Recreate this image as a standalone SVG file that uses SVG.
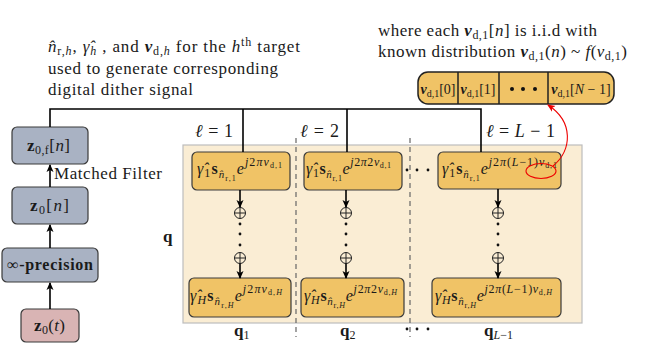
<svg xmlns="http://www.w3.org/2000/svg" width="651" height="347" viewBox="0 0 651 347">
<style>
text{font-family:"Liberation Serif","Times New Roman",serif;fill:#1a1a1a}
.t{font-size:17px}
.m{font-size:16px}
.i{font-style:italic}
.b{font-weight:bold}
.bi{font-weight:bold;font-style:italic}
.ob{fill:#F0C366;stroke:#3a3a3a;stroke-width:1.2}
.gb{fill:#A9B2C3;stroke:#3a3a3a;stroke-width:1.2}
.ln{stroke:#000;stroke-width:1.6;fill:none}
.dl{stroke:#666;stroke-width:1.2;stroke-dasharray:5 4;fill:none}
.op{fill:none;stroke:#222;stroke-width:1}
.dot{fill:#111}
</style>
<defs>
<marker id="ah" markerWidth="8" markerHeight="8" refX="7" refY="4" orient="auto" markerUnits="userSpaceOnUse">
<path d="M0,0.5 L8,4 L0,7.5 L2,4 z" fill="#000"/>
</marker>
<marker id="ahr" markerWidth="8" markerHeight="8" refX="7" refY="4" orient="auto" markerUnits="userSpaceOnUse">
<path d="M0,0.5 L8,4 L0,7.5 L2,4 z" fill="#e00"/>
</marker>
</defs>

<rect id="panel" x="183" y="145" width="399" height="178" fill="#FAEDD4" stroke="#BDBDBD" stroke-width="1.2"/>

<g id="note-left">
<text class="t" x="48" y="52" textLength="252"><tspan class="i">n̂</tspan><tspan dy="3" font-size="12">r,</tspan><tspan class="i" font-size="12">h</tspan><tspan dy="-3">, </tspan><tspan class="i">γ̂</tspan><tspan dy="3" class="i" font-size="12">h</tspan><tspan dy="-3"> , and </tspan><tspan class="bi">ν</tspan><tspan dy="3" font-size="12">d,</tspan><tspan class="i" font-size="12">h</tspan><tspan dy="-3"> for the </tspan><tspan class="i">h</tspan><tspan dy="-6" font-size="12">th</tspan><tspan dy="6"> target</tspan></text>
<text class="t" x="48" y="74" textLength="230">used to generate corresponding</text>
<text class="t" x="48" y="95" textLength="145">digital dither signal</text>
</g>
<g id="note-right">
<text class="t" x="378" y="36" textLength="219">where each <tspan class="bi">ν</tspan><tspan dy="3" font-size="12">d,1</tspan><tspan dy="-3">[</tspan><tspan class="i">n</tspan>] is i.i.d with</text>
<text class="t" x="378" y="57" textLength="249">known distribution <tspan class="bi">ν</tspan><tspan dy="3" font-size="12">d,1</tspan><tspan dy="-3">(</tspan><tspan class="i">n</tspan>) ~ <tspan class="i">f</tspan>(<tspan class="i">ν</tspan><tspan dy="3" font-size="12">d,1</tspan><tspan dy="-3">)</tspan></text>
</g>

<g id="nu-vector">
<rect x="418" y="72" width="196" height="32" rx="10" fill="#F0C366" stroke="#222" stroke-width="1.5"/>
<line x1="458" y1="72" x2="458" y2="104" stroke="#222" stroke-width="1.5"/>
<line x1="499" y1="72" x2="499" y2="104" stroke="#222" stroke-width="1.5"/>
<line x1="548" y1="72" x2="548" y2="104" stroke="#222" stroke-width="1.5"/>
<text x="438" y="94" text-anchor="middle" font-size="14"><tspan class="bi">ν</tspan><tspan dy="3" font-size="10">d,1</tspan><tspan dy="-3">[0]</tspan></text>
<text x="478" y="94" text-anchor="middle" font-size="14"><tspan class="bi">ν</tspan><tspan dy="3" font-size="10">d,1</tspan><tspan dy="-3">[1]</tspan></text>
<circle class="dot" cx="512" cy="89" r="2"/><circle class="dot" cx="523" cy="89" r="2"/><circle class="dot" cx="535" cy="89" r="2"/>
<text x="581" y="94" text-anchor="middle" font-size="14"><tspan class="bi">ν</tspan><tspan dy="3" font-size="10">d,1</tspan><tspan dy="-3">[</tspan><tspan class="i">N</tspan> − 1]</text>
</g>

<g id="z0f"><rect class="gb" x="12" y="127" width="76" height="37" rx="5"/>
<text x="27" y="151" font-size="17" textLength="43"><tspan class="b">z</tspan><tspan dy="3" font-size="12">0,f</tspan><tspan dy="-3">[</tspan><tspan class="i">n</tspan>]</text></g>
<g id="z0n"><rect class="gb" x="12" y="187" width="76" height="37" rx="5"/>
<text x="30" y="211" font-size="17" textLength="39"><tspan class="b">z</tspan><tspan dy="3" font-size="12">0</tspan><tspan dy="-3">[</tspan><tspan class="i">n</tspan>]</text></g>
<g id="inf-precision"><rect class="gb" x="2" y="248" width="96" height="34" rx="5"/>
<text x="7" y="270" font-size="16" font-weight="bold" textLength="86">∞-precision</text></g>
<g id="z0t"><rect x="21" y="309" width="58" height="33" rx="5" fill="#D9B4B4" stroke="#3a3a3a" stroke-width="1.2"/>
<text x="34" y="331" font-size="17" textLength="31"><tspan class="b">z</tspan><tspan dy="3" font-size="12">0</tspan><tspan dy="-3">(</tspan><tspan class="i">t</tspan>)</text></g>

<g id="separators">
<line class="dl" x1="296" y1="138" x2="296" y2="337"/>
<line class="dl" x1="410" y1="138" x2="410" y2="337"/>
</g>

<g id="box-1-1"><rect class="ob" x="192" y="152" width="98" height="38" rx="5"/>
<text class="m" x="197" y="174" textLength="85"><tspan class="i">γ̂</tspan><tspan dy="3" font-size="12">1</tspan><tspan dy="-3" class="b">s</tspan><tspan dy="4" class="i" font-size="11">n̂</tspan><tspan dy="3" font-size="8">r,1</tspan><tspan dy="-7" class="i">e</tspan><tspan dy="-8" class="i" font-size="12">j</tspan><tspan font-size="12">2</tspan><tspan class="i" font-size="12">πν</tspan><tspan dy="2" font-size="8">d,1</tspan></text></g>
<g id="box-2-1"><rect class="ob" x="304" y="152" width="98" height="38" rx="5"/>
<text class="m" x="306" y="174" textLength="85"><tspan class="i">γ̂</tspan><tspan dy="3" font-size="12">1</tspan><tspan dy="-3" class="b">s</tspan><tspan dy="4" class="i" font-size="11">n̂</tspan><tspan dy="3" font-size="8">r,1</tspan><tspan dy="-7" class="i">e</tspan><tspan dy="-8" class="i" font-size="12">j</tspan><tspan font-size="12">2</tspan><tspan class="i" font-size="12">π</tspan><tspan font-size="12">2</tspan><tspan class="i" font-size="12">ν</tspan><tspan dy="2" font-size="8">d,1</tspan></text></g>
<g id="box-L-1"><rect class="ob" x="438" y="152" width="123" height="37" rx="5"/>
<text class="m" x="442" y="174" textLength="115"><tspan class="i">γ̂</tspan><tspan dy="3" font-size="12">1</tspan><tspan dy="-3" class="b">s</tspan><tspan dy="4" class="i" font-size="11">n̂</tspan><tspan dy="3" font-size="8">r,1</tspan><tspan dy="-7" class="i">e</tspan><tspan dy="-8" class="i" font-size="12">j</tspan><tspan font-size="12">2</tspan><tspan class="i" font-size="12">π</tspan><tspan font-size="12">(</tspan><tspan class="i" font-size="12">L</tspan><tspan font-size="12">−1)</tspan><tspan class="i" font-size="12">ν</tspan><tspan dy="2" font-size="8">d,1</tspan></text></g>

<g id="box-1-H"><rect class="ob" x="189" y="278" width="102" height="39" rx="5"/>
<text class="m" x="190" y="301" textLength="92"><tspan class="i">γ̂</tspan><tspan dy="3" class="i" font-size="12">H</tspan><tspan dy="-3" class="b">s</tspan><tspan dy="4" class="i" font-size="11">n̂</tspan><tspan dy="3" font-size="8">r,</tspan><tspan class="i" font-size="8">H</tspan><tspan dy="-7" class="i">e</tspan><tspan dy="-8" class="i" font-size="12">j</tspan><tspan font-size="12">2</tspan><tspan class="i" font-size="12">πν</tspan><tspan dy="2" font-size="8">d,</tspan><tspan class="i" font-size="8">H</tspan></text></g>
<g id="box-2-H"><rect class="ob" x="301" y="278" width="103" height="39" rx="5"/>
<text class="m" x="304" y="301" textLength="93"><tspan class="i">γ̂</tspan><tspan dy="3" class="i" font-size="12">H</tspan><tspan dy="-3" class="b">s</tspan><tspan dy="4" class="i" font-size="11">n̂</tspan><tspan dy="3" font-size="8">r,</tspan><tspan class="i" font-size="8">H</tspan><tspan dy="-7" class="i">e</tspan><tspan dy="-8" class="i" font-size="12">j</tspan><tspan font-size="12">2</tspan><tspan class="i" font-size="12">π</tspan><tspan font-size="12">2</tspan><tspan class="i" font-size="12">ν</tspan><tspan dy="2" font-size="8">d,</tspan><tspan class="i" font-size="8">H</tspan></text></g>
<g id="box-L-H"><rect class="ob" x="432" y="278" width="129" height="39" rx="5"/>
<text class="m" x="435" y="301" textLength="117"><tspan class="i">γ̂</tspan><tspan dy="3" class="i" font-size="12">H</tspan><tspan dy="-3" class="b">s</tspan><tspan dy="4" class="i" font-size="11">n̂</tspan><tspan dy="3" font-size="8">r,</tspan><tspan class="i" font-size="8">H</tspan><tspan dy="-7" class="i">e</tspan><tspan dy="-8" class="i" font-size="12">j</tspan><tspan font-size="12">2</tspan><tspan class="i" font-size="12">π</tspan><tspan font-size="12">(</tspan><tspan class="i" font-size="12">L</tspan><tspan font-size="12">−1)</tspan><tspan class="i" font-size="12">ν</tspan><tspan dy="2" font-size="8">d,</tspan><tspan class="i" font-size="8">H</tspan></text></g>

<g id="adders">
<circle class="op" cx="240" cy="213" r="5.5"/><path class="op" d="M234.5 213h11M240 207.5v11"/>
<circle class="op" cx="240" cy="258" r="5.5"/><path class="op" d="M234.5 258h11M240 252.5v11"/>
<circle class="op" cx="346" cy="213" r="5.5"/><path class="op" d="M340.5 213h11M346 207.5v11"/>
<circle class="op" cx="346" cy="258" r="5.5"/><path class="op" d="M340.5 258h11M346 252.5v11"/>
<circle class="op" cx="498" cy="213" r="5.5"/><path class="op" d="M492.5 213h11M498 207.5v11"/>
<circle class="op" cx="498" cy="258" r="5.5"/><path class="op" d="M492.5 258h11M498 252.5v11"/>
<g class="dot">
<circle cx="240" cy="224" r="1.4"/><circle cx="240" cy="234" r="1.4"/><circle cx="240" cy="245" r="1.4"/>
<circle cx="346" cy="224" r="1.4"/><circle cx="346" cy="234" r="1.4"/><circle cx="346" cy="245" r="1.4"/>
<circle cx="498" cy="224" r="1.4"/><circle cx="498" cy="234" r="1.4"/><circle cx="498" cy="245" r="1.4"/>
<circle cx="407" cy="170" r="1.4"/><circle cx="417" cy="170" r="1.4"/><circle cx="428" cy="170" r="1.4"/>
<circle cx="407" cy="329" r="1.4"/><circle cx="417" cy="329" r="1.4"/><circle cx="428" cy="329" r="1.4"/>
</g>
</g>

<g id="connectors">
<path class="ln" d="M50 127V109H481V152"/>
<path class="ln" d="M243 109V152"/>
<path class="ln" d="M347 109V152"/>
<path class="ln" d="M50 309V283" marker-end="url(#ah)"/>
<path class="ln" d="M50 248V225" marker-end="url(#ah)"/>
<path class="ln" d="M50 187V165" marker-end="url(#ah)"/>
<path class="ln" d="M240 190V207" marker-end="url(#ah)"/>
<path class="ln" d="M240 263.5V278" marker-end="url(#ah)"/>
<path class="ln" d="M346 190V207" marker-end="url(#ah)"/>
<path class="ln" d="M346 263.5V278" marker-end="url(#ah)"/>
<path class="ln" d="M498 189V207" marker-end="url(#ah)"/>
<path class="ln" d="M498 263.5V278" marker-end="url(#ah)"/>
<ellipse cx="541" cy="171" rx="15" ry="7.5" fill="none" stroke="#e00" stroke-width="1.1"/>
<path d="M553 166C572 150 574 122 548 105" fill="none" stroke="#e00" stroke-width="1.1" marker-end="url(#ahr)"/>
</g>

<g id="labels">
<text class="t" x="54" y="179" textLength="108">Matched Filter</text>
<text class="b" x="163" y="242" font-size="17">q</text>
<text x="195" y="137" font-size="18" textLength="38"><tspan class="i">ℓ</tspan> = 1</text>
<text x="300" y="137" font-size="18" textLength="39"><tspan class="i">ℓ</tspan> = 2</text>
<text x="486" y="137" font-size="18" textLength="69"><tspan class="i">ℓ</tspan> = <tspan class="i">L</tspan> − 1</text>
<text x="234" y="336" font-size="17"><tspan class="b">q</tspan><tspan dy="3" font-size="12">1</tspan></text>
<text x="340" y="336" font-size="17"><tspan class="b">q</tspan><tspan dy="3" font-size="12">2</tspan></text>
<text x="484" y="336" font-size="17"><tspan class="b">q</tspan><tspan dy="3" font-size="12"><tspan class="i">L</tspan>−1</tspan></text>
</g>
</svg>
